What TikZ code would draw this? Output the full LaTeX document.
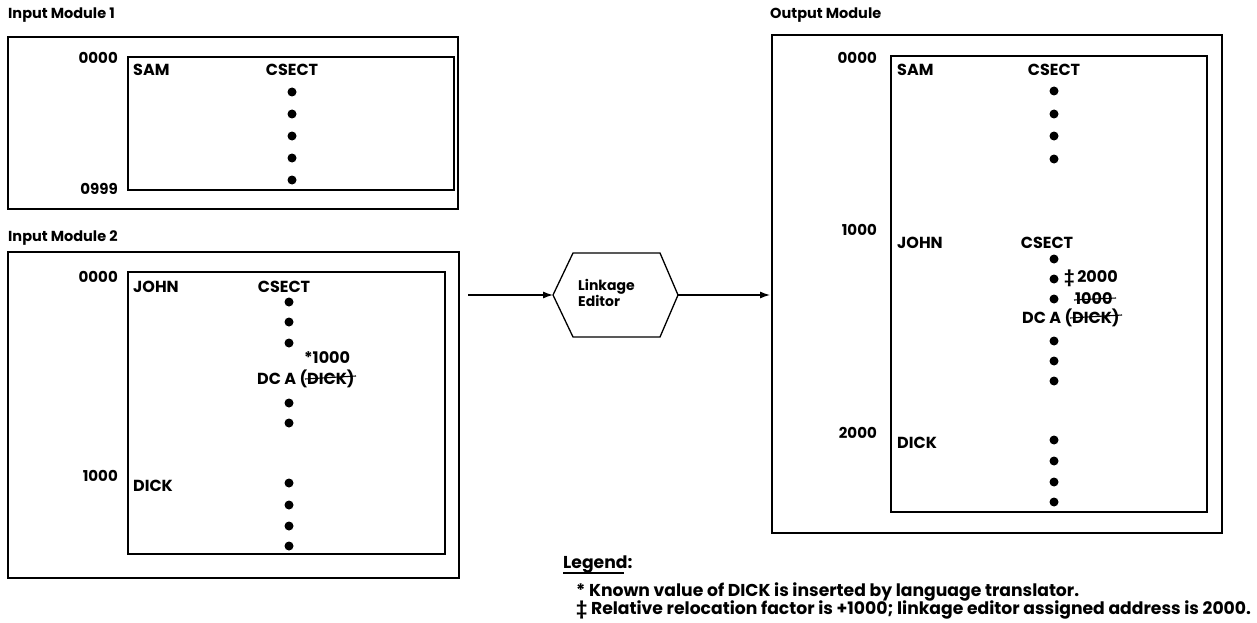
\documentclass[tikz,border=0pt]{standalone}
\usepackage{fontspec}
\setmainfont{Poppins}
\usetikzlibrary{arrows.meta}
\tikzset{
  outerbox/.style={draw, line width=1.8pt},
  innerbox/.style={draw, line width=1.3pt},
  title/.style={anchor=west, font=\bfseries\fontsize{14.5}{16}\selectfont, inner sep=0pt},
  addr/.style={anchor=east, font=\bfseries\fontsize{15}{16}\selectfont, inner sep=0pt},
  txt/.style={font=\bfseries\fontsize{16}{18}\selectfont, inner sep=0pt},
  lname/.style={txt, anchor=west},
  dot/.style={circle, fill=black, inner sep=0pt, minimum size=9pt},
  flow/.style={line width=1.2pt, -{Latex[length=10pt,width=7pt]}},
  strike/.style={line width=1.1pt},
  legend/.style={anchor=west, font=\bfseries\fontsize{17.2}{19}\selectfont, inner sep=0pt}
}
\begin{document}
\begin{tikzpicture}[x=1pt,y=-1pt]
\useasboundingbox (0,0) rectangle (1257,623);

% ---------- Input Module 1 ----------
\node[title] (t1) at (8,15) {Input Module 1};
\draw[outerbox] (8,37) rectangle (458,209);
\draw[innerbox] (128,57) rectangle (454,190);
\node[addr] (a1s) at (118,58) {0000};
\node[addr] (a1e) at (118,189) {0999};
\node[lname] (sam1) at (133,70) {SAM};
\node[txt] (cs1) at (292,70) {CSECT};
\foreach \y [count=\i] in {92,114,136,158,180}
  \node[dot] (d1\i) at (292,\y) {};

% ---------- Input Module 2 ----------
\node[title] (t2) at (8,238) {Input Module 2};
\draw[outerbox] (8,252) rectangle (459,578);
\draw[innerbox] (128,272) rectangle (445,554);
\node[addr] (a2s) at (118,277) {0000};
\node[addr] (a2m) at (118,476) {1000};
\node[lname] (john2) at (133,287) {JOHN};
\node[txt] (cs2) at (284,287) {CSECT};
\foreach \y [count=\i] in {302,322,343,403,423,483,505,526,546}
  \node[dot] (d2\i) at (289,\y) {};
\node[txt, anchor=west] (k2) at (304,358) {*1000};
\node[txt, anchor=west] (dc2) at (257,379) {DC A (DICK)};
\draw[strike] (305,379) -- (356,376);
\node[lname] (dick2) at (133,486) {DICK};

% ---------- Linkage editor ----------
\coordinate (hexL) at (553,295);
\coordinate (hexR) at (678,295);
\draw[line width=1.3pt] (hexL) -- (573,253) -- (660,253) -- (hexR) -- (660,337) -- (573,337) -- cycle;
\node[font=\bfseries\fontsize{14}{16}\selectfont, align=left, anchor=west, inner sep=0pt] (le) at (578,293) {Linkage\\Editor};
\coordinate (src) at (468,295);
\coordinate (dst) at (770,295);
\draw[flow] (src) -- (hexL);
\draw[flow] (hexR) -- (dst);

% ---------- Output Module ----------
\node[title] (t3) at (770,15) {Output Module};
\draw[outerbox] (772,35) rectangle (1222,533);
\draw[innerbox] (891,56) rectangle (1207,512);
\node[addr] (o0) at (877,58) {0000};
\node[addr] (o1) at (877,230) {1000};
\node[addr] (o2) at (877,433) {2000};
\node[lname] (sam3) at (897,70) {SAM};
\node[txt] (cs3a) at (1054,70) {CSECT};
\foreach \y [count=\i] in {91,114,136,159}
  \node[dot] (d3\i) at (1054,\y) {};
\node[lname] (john3) at (897,243) {JOHN};
\node[txt] (cs3b) at (1047,243) {CSECT};
\foreach \y [count=\i] in {259,279,299,341,361,381,440,461,482,502}
  \node[dot] (e3\i) at (1054,\y) {};
\node[txt, anchor=west] (r3) at (1064,278) {‡\,2000};
\node[txt, anchor=west] (old3) at (1075,299) {1000};
\draw[strike] (1074,300) -- (1116,298);
\node[txt, anchor=west] (dc3) at (1022,318) {DC A (DICK)};
\draw[strike] (1070,318) -- (1122,315);
\node[lname] (dick3) at (897,443) {DICK};

% ---------- Legend ----------
\node[legend] (lg) at (563,564) {Legend:};
\draw[line width=1.2pt] (563,573) -- (624,573);
\node[legend] (lg1) at (576,592) {*\ Known value of DICK is inserted by language translator.};
\node[legend] (lg2) at (576,610) {‡\ Relative relocation factor is +1000; linkage editor assigned address is 2000.};
\end{tikzpicture}
\end{document}
